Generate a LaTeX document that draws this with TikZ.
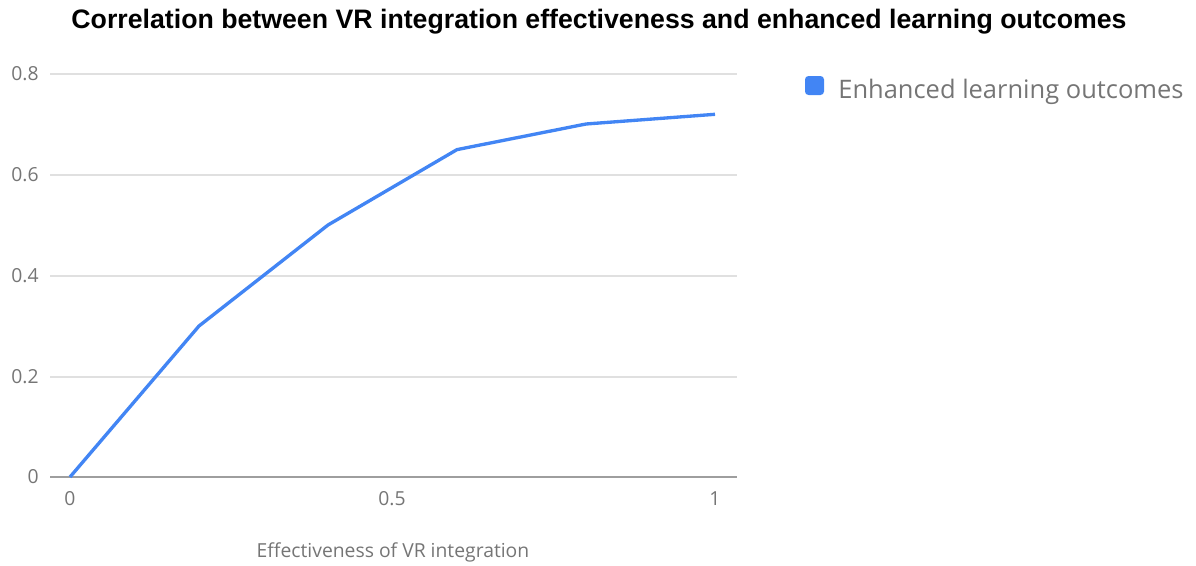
\documentclass[tikz,border=0pt]{standalone}
\usepackage{fontspec}
\setmainfont{Liberation Sans}
\newfontfamily\labelfont{Open Sans}
\definecolor{lineblue}{HTML}{4285F4}
\definecolor{gridgray}{HTML}{E0E0E0}
\definecolor{axisgray}{HTML}{9E9E9E}
\definecolor{textgray}{HTML}{757575}
\tikzset{
	ticklabel/.style={font=\labelfont\fontsize{11}{13}\selectfont,text=textgray,inner sep=0pt},
	gridline/.style={gridgray,line width=0.6pt},
}
\begin{document}
\begin{tikzpicture}[x=0.02cm,y=-0.02cm]
	\useasboundingbox (0,0) rectangle (1196,565);
	\draw (599,22) node[font=\bfseries\fontsize{15.2}{17}\selectfont] (title) {Correlation between VR integration effectiveness and enhanced learning outcomes};
	% grid
	\foreach \y/\lab in {74/0.8,175/0.6,276/0.4,377/0.2}{
		\draw[gridline] (50,\y)--(737,\y);
		\draw (39,\y) node[ticklabel,anchor=east] {\lab};
	}
	\draw (39,477) node[ticklabel,anchor=east] (y0) {0};
	\draw[axisgray,line width=0.9pt] (50,477)--(737,477);
	\draw (70,499) node[ticklabel] (x0) {0};
	\draw (392,499) node[ticklabel] (x1) {0.5};
	\draw (715,499) node[ticklabel] (x2) {1};
	\draw (393,552) node[ticklabel] (xtitle) {Effectiveness of VR integration};
	% data
	\draw[lineblue,line width=1.9pt,line join=round] (70,477)--(199,326)--(328,225)--(457,149.6)--(586,124)--(715,114.3);
	% legend
	\fill[lineblue,rounded corners=2pt] (805,76) rectangle (824,95);
	\draw (838,92) node[anchor=west,inner sep=0pt,font=\labelfont\fontsize{14.5}{16}\selectfont,text=textgray] (legend) {Enhanced learning outcomes};
\end{tikzpicture}
\end{document}
